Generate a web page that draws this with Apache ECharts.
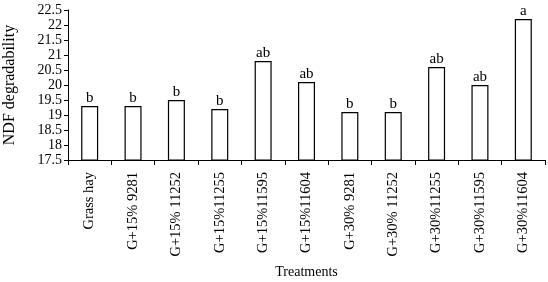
<!DOCTYPE html>
<html><head><meta charset="utf-8">
<script src="https://cdn.jsdelivr.net/npm/echarts@6/dist/echarts.min.js"></script>
<style>html,body{margin:0;padding:0;background:#fff}#c{width:548px;height:282px}</style>
</head><body><div id="c"></div>
<script>
const categories = ["Grass hay","G+15% 9281","G+15% 11252","G+15%11255","G+15%11595","G+15%11604","G+30% 9281","G+30% 11252","G+30%11255","G+30%11595","G+30%11604"];
const values = [19.3,19.3,19.5,19.2,20.8,20.1,19.1,19.1,20.6,20.0,22.2];
const letters = ["b","b","b","b","ab","ab","b","b","ab","ab","a"];
const yMin = 17.5, yMax = 22.5, yStep = 0.5;
const font = "'Liberation Serif','Times New Roman',serif";
const chart = echarts.init(document.getElementById('c'));
chart.setOption({
  animation:false,
  backgroundColor:'#fff',
  grid:{left:68,right:3,top:10,bottom:122,containLabel:false,outerBoundsMode:'none'},
  xAxis:{type:'category',data:categories,
    name:'Treatments',nameLocation:'middle',nameGap:105,
    nameTextStyle:{fontFamily:font,fontSize:14,color:'#000'},
    axisLine:{lineStyle:{color:'#000',width:1}},
    axisTick:{show:true,length:5,lineStyle:{color:'#000'}},
    axisLabel:{rotate:90,margin:12,fontFamily:font,fontSize:14.5,color:'#000',interval:0},
    splitLine:{show:false}},
  yAxis:{type:'value',min:yMin,max:yMax,interval:yStep,
    name:'NDF degradability',nameLocation:'middle',nameGap:50,
    nameTextStyle:{fontFamily:font,fontSize:16,color:'#000'},
    axisLine:{show:true,lineStyle:{color:'#000',width:1}},
    axisTick:{show:true,length:4,lineStyle:{color:'#000'}},
    axisLabel:{margin:6,fontFamily:font,fontSize:14,color:'#000',formatter:v=>String(+v.toFixed(1))},
    splitLine:{show:false}},
  series:[{type:'bar',barWidth:17,
    data:values.map((v,i)=>({value:v,label:{formatter:letters[i]}})),
    itemStyle:{color:'#fff',borderColor:'#000',borderWidth:1.2},
    label:{show:true,position:'top',distance:0,fontFamily:font,fontSize:15,color:'#000'}}]
});
</script></body></html>
